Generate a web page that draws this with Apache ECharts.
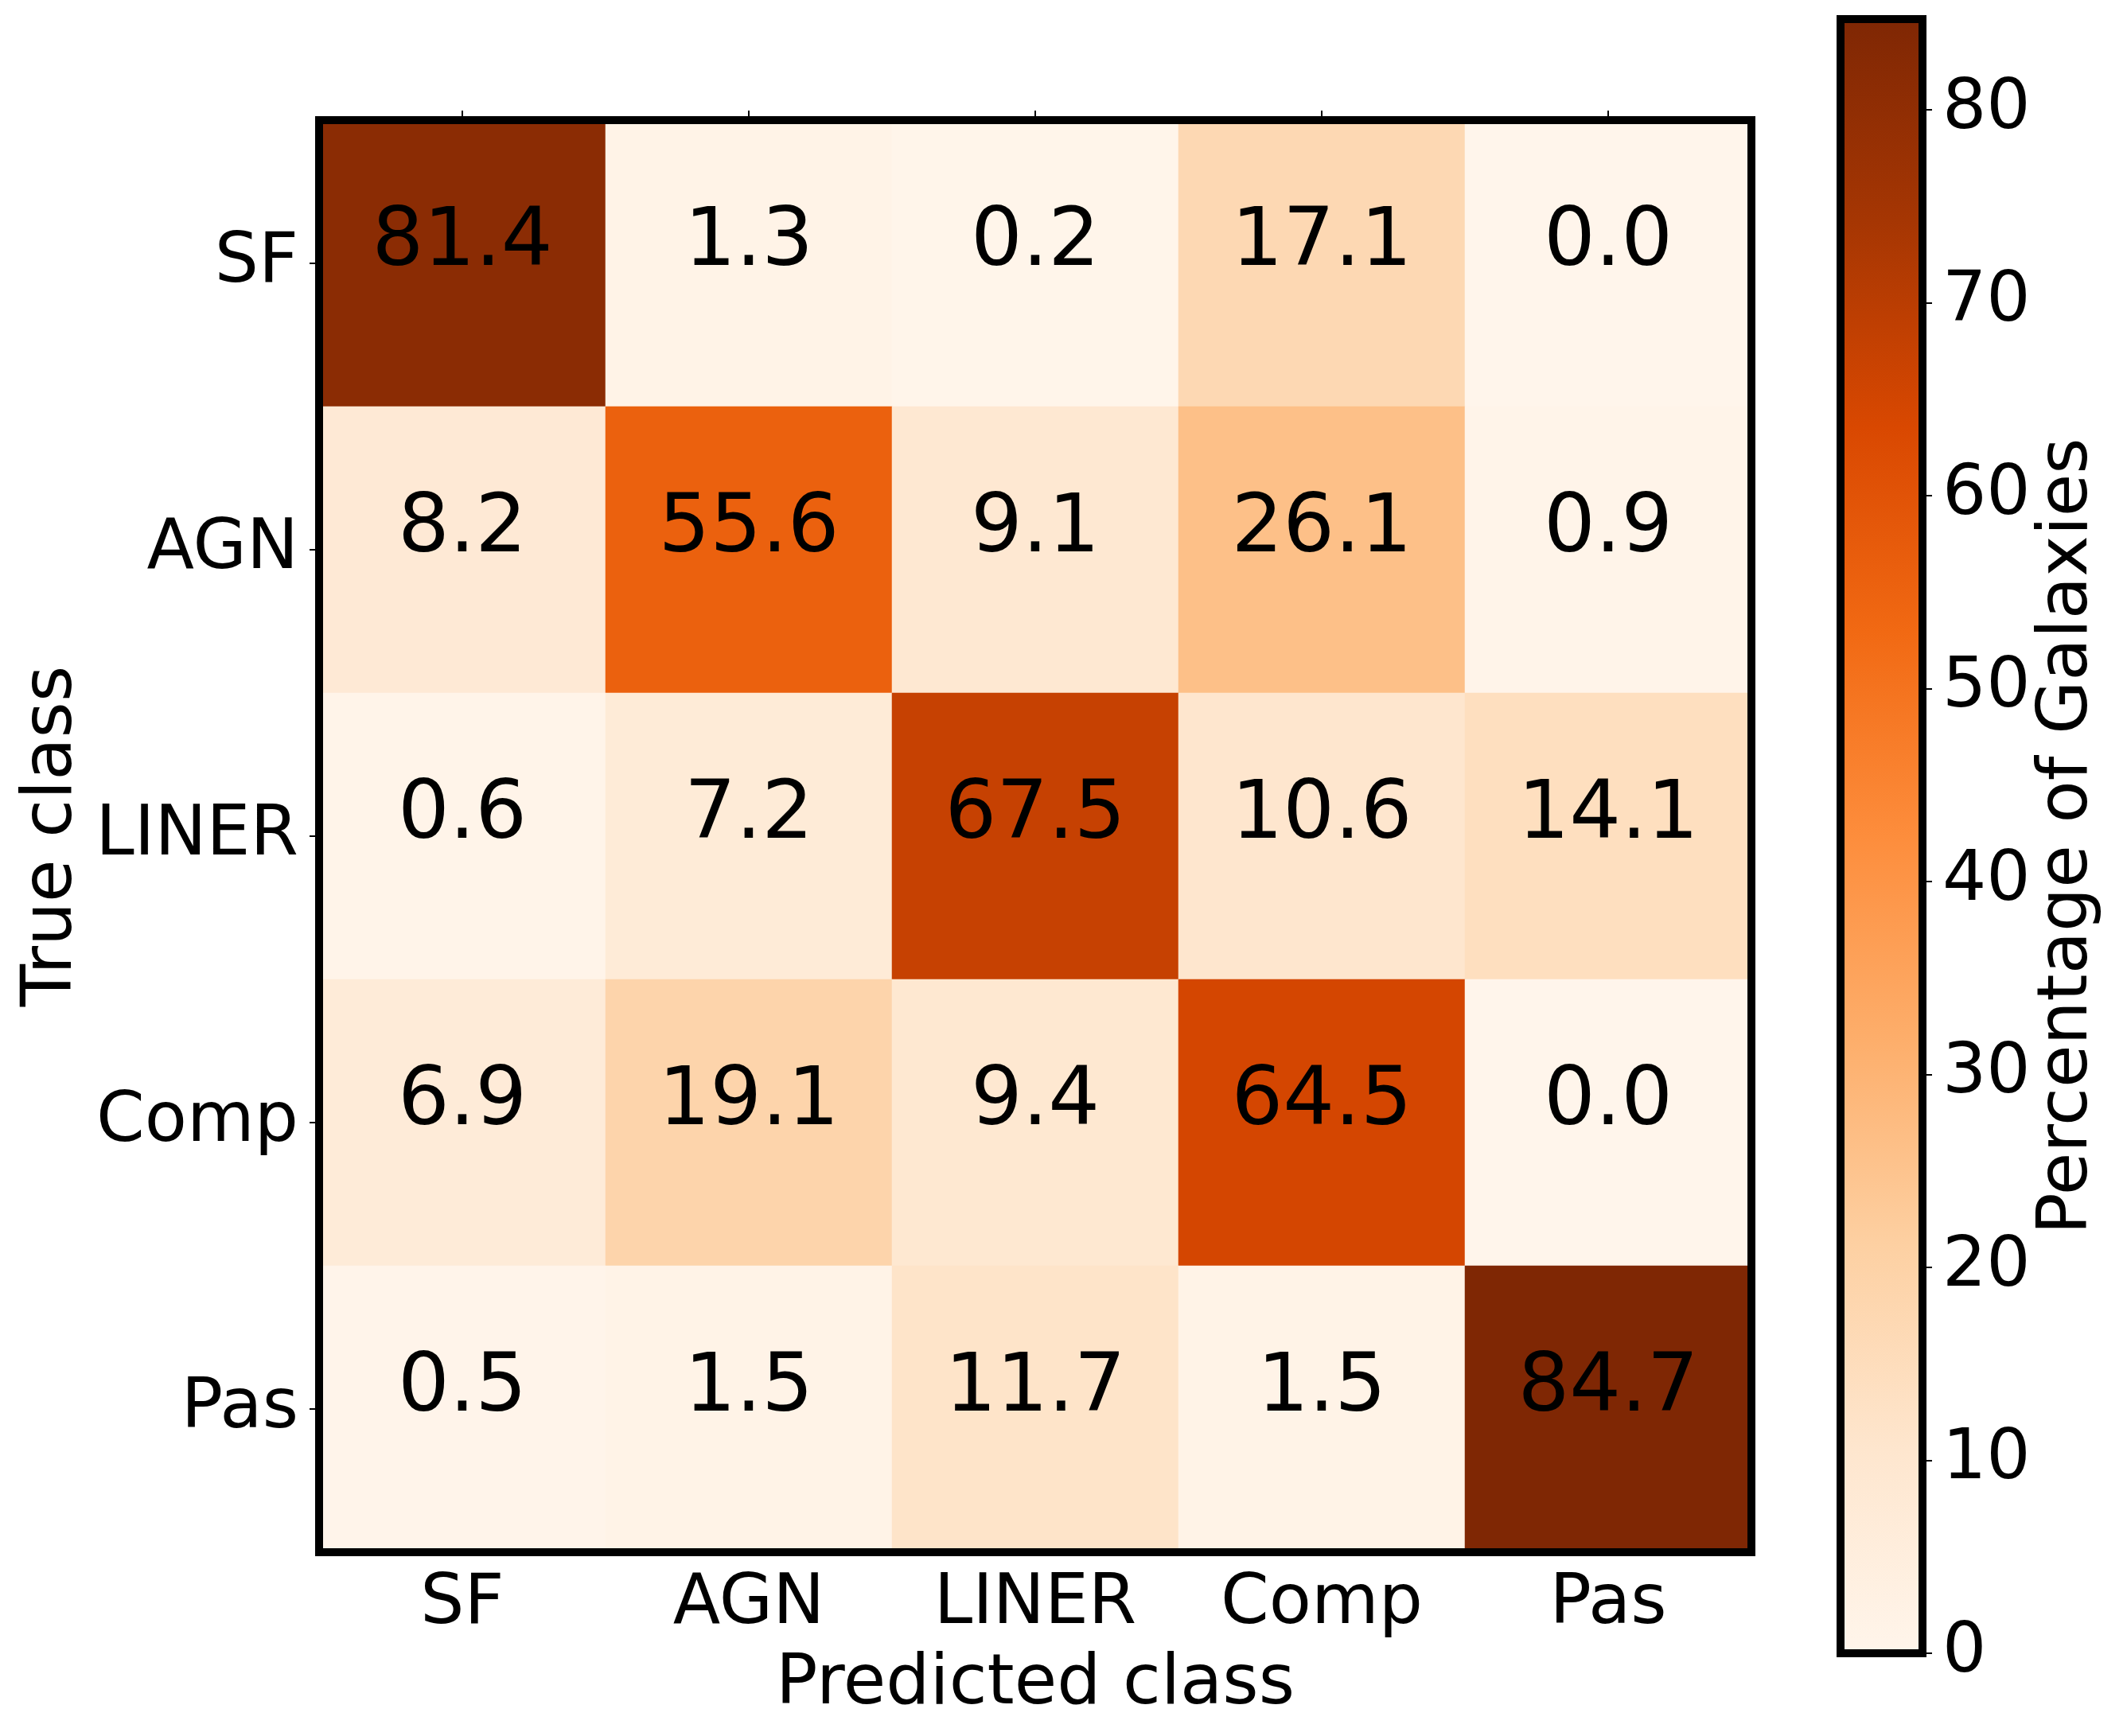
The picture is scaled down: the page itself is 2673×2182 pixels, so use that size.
<!DOCTYPE html>
<html>
<head>
<meta charset="utf-8">
<script src="https://cdn.jsdelivr.net/npm/echarts@6/dist/echarts.min.js"></script>
<style>
  html, body { margin: 0; padding: 0; background: #ffffff; }
  #chart { width: 2673px; height: 2182px; }
</style>
</head>
<body>
<div id="chart"></div>
<script>
// ---- data ----
const predictedClasses = ['SF', 'AGN', 'LINER', 'Comp', 'Pas'];
const trueClasses = ['SF', 'AGN', 'LINER', 'Comp', 'Pas'];
const rowSF    = [81.4, 1.3, 0.2, 17.1, 0.0];
const rowAGN   = [8.2, 55.6, 9.1, 26.1, 0.9];
const rowLINER = [0.6, 7.2, 67.5, 10.6, 14.1];
const rowComp  = [6.9, 19.1, 9.4, 64.5, 0.0];
const rowPas   = [0.5, 1.5, 11.7, 1.5, 84.7];
const colorbarTicks = [0, 10, 20, 30, 40, 50, 60, 70, 80];
const orangesColors = ['#fff5eb', '#fee6ce', '#fdd0a2', '#fdae6b', '#fd8d3c', '#f16913', '#d94801', '#a63603', '#7f2704'];

const rows = [rowSF, rowAGN, rowLINER, rowComp, rowPas];
const heatData = [];
rows.forEach((r, yi) => r.forEach((v, xi) => heatData.push([xi, yi, v])));
const allVals = rows.flat();
const vMin = 0;
const vMax = Math.max(...allVals);

const FONT = 'DejaVu Sans';
const LABEL_SIZE = 87;
const CELL_SIZE = 102;

const chart = echarts.init(document.getElementById('chart'), null, { renderer: 'canvas' });

const gradStops = orangesColors.map((c, i) => ({ offset: i / (orangesColors.length - 1), color: c }));

const option = {
  backgroundColor: '#ffffff',
  animation: false,
  textStyle: { fontFamily: FONT },
  grid: [
    { left: 401, top: 151, width: 1800, height: 1800, show: true, z: 5,
      borderColor: '#000', borderWidth: 10, backgroundColor: 'transparent' },
    { left: 2313, top: 24, width: 103, height: 2054, show: true, z: 5,
      borderColor: '#000', borderWidth: 10, backgroundColor: 'transparent' }
  ],
  xAxis: [
    { type: 'category', gridIndex: 0, data: predictedClasses, position: 'bottom',
      axisLine: { show: false }, axisTick: { show: false },
      axisLabel: { fontSize: LABEL_SIZE, color: '#000', margin: 23, fontFamily: FONT },
      name: 'Predicted class', nameLocation: 'middle', nameGap: 124,
      nameTextStyle: { fontSize: LABEL_SIZE, color: '#000', fontFamily: FONT },
      splitLine: { show: false } },
    { type: 'category', gridIndex: 0, data: predictedClasses, position: 'top',
      axisLine: { show: false },
      axisTick: { show: true, alignWithLabel: true, length: 12, lineStyle: { color: '#000', width: 2 } },
      axisLabel: { show: false }, splitLine: { show: false } },
    { type: 'category', gridIndex: 1, data: ['cb'], show: false }
  ],
  yAxis: [
    { type: 'category', gridIndex: 0, data: trueClasses, inverse: true, position: 'left',
      axisLine: { show: false },
      axisTick: { show: true, alignWithLabel: true, length: 12, lineStyle: { color: '#000', width: 2 } },
      axisLabel: { fontSize: LABEL_SIZE, color: '#000', margin: 26, fontFamily: FONT },
      name: 'True class', nameLocation: 'middle', nameGap: 290, nameRotate: 90,
      nameTextStyle: { fontSize: LABEL_SIZE, color: '#000', fontFamily: FONT },
      splitLine: { show: false } },
    { type: 'value', gridIndex: 1, min: vMin, max: vMax, position: 'right',
      axisLine: { show: false },
      axisTick: { show: true, length: 12, customValues: colorbarTicks, lineStyle: { color: '#000', width: 2 } },
      axisLabel: { fontSize: LABEL_SIZE, color: '#000', margin: 25, customValues: colorbarTicks, fontFamily: FONT },
      splitLine: { show: false },
      name: 'Percentage of Galaxies', nameLocation: 'middle', nameGap: 140, nameRotate: 90,
      nameTextStyle: { fontSize: LABEL_SIZE, color: '#000', fontFamily: FONT } }
  ],
  visualMap: {
    show: false, type: 'continuous', min: vMin, max: vMax, seriesIndex: 0,
    inRange: { color: orangesColors }
  },
  series: [
    {
      type: 'heatmap', xAxisIndex: 0, yAxisIndex: 0, data: heatData,
      itemStyle: { borderWidth: 0 },
      emphasis: { disabled: true },
      label: {
        show: true, fontSize: CELL_SIZE, color: '#000', fontFamily: FONT,
        offset: [0, -25],
        formatter: p => p.value[2].toFixed(1)
      }
    },
    {
      type: 'bar', xAxisIndex: 2, yAxisIndex: 1, data: [vMax], barWidth: '100%', silent: true,
      itemStyle: { color: new echarts.graphic.LinearGradient(0, 1, 0, 0, gradStops) }
    }
  ]
};
chart.setOption(option);
</script>
</body>
</html>
